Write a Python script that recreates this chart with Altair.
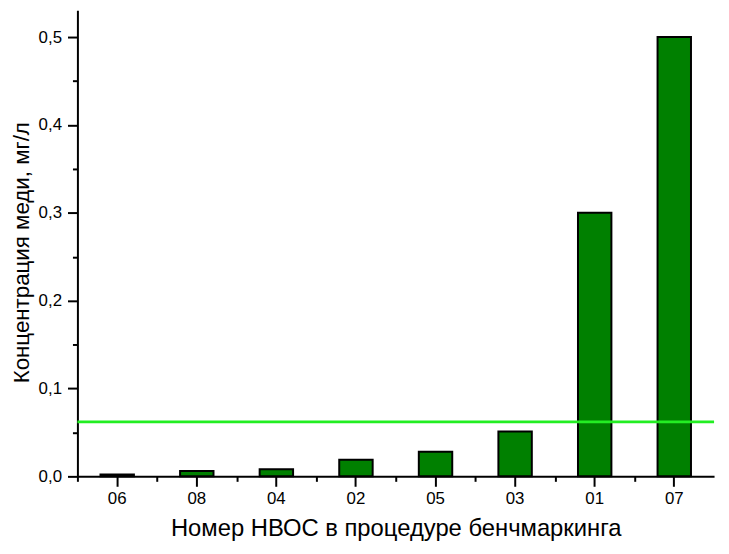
import altair as alt
import pandas as pd

cats = ["06", "08", "04", "02", "05", "03", "01", "07"]
vals = [0.002, 0.006, 0.008, 0.019, 0.028, 0.051, 0.300, 0.500]
threshold = 0.062
y_major = [0.0, 0.1, 0.2, 0.3, 0.4, 0.5]
y_minor = [0.05, 0.15, 0.25, 0.35, 0.45]
x_minor = [0, 1, 2, 3, 4, 5, 6, 7]

df = pd.DataFrame({"cat": cats, "val": vals})
FONT = "Liberation Sans"
YMAX = 0.5305

xscale = alt.Scale(domain=cats, paddingInner=0.58, paddingOuter=0.29)
yscale = alt.Scale(domain=[0, YMAX], nice=False, zero=True)
label_expr = "replace(format(datum.value, '.1f'), '.', ',')"

bars = alt.Chart(df).mark_bar(color="#008000", stroke="#000000", strokeWidth=2).encode(
    x=alt.X("cat:N", sort=cats, scale=xscale,
            axis=alt.Axis(title="Номер НВОС в процедуре бенчмаркинга", orient="bottom",
                          labelAngle=0, tickSize=10, tickWidth=2, domainWidth=2, grid=False,
                          domainColor="black", tickColor="black", labelColor="black",
                          labelFontSize=17, labelFont=FONT, labelPadding=4,
                          titleFont=FONT, titleFontSize=24, titleFontWeight="normal",
                          titleColor="black", titlePadding=11)),
    y=alt.Y("val:Q", scale=yscale,
            axis=alt.Axis(title="Концентрация меди, мг/л", orient="left", values=y_major,
                          labelExpr=label_expr, tickSize=10, tickWidth=2, domainWidth=2,
                          grid=False,
                          domainColor="black", tickColor="black", labelColor="black",
                          labelFontSize=17, labelFont=FONT, labelPadding=6,
                          titleFont=FONT, titleFontSize=22.5, titleFontWeight="normal",
                          titleColor="black", titleX=-67, titleY=244,
                          titleBaseline="top", titleAngle=270)),
)

rule = alt.Chart(pd.DataFrame({"t": [threshold]})).mark_rule(
    color="#22EE22", strokeWidth=3).encode(
    y=alt.Y("t:Q", scale=yscale, axis=None)
)

minor_df = pd.DataFrame({"xm": x_minor, "m": y_minor + [0.05, 0.05, 0.05]})
minor = alt.Chart(minor_df).mark_point(opacity=0).encode(
    x=alt.X("xm:Q", scale=alt.Scale(domain=[0, len(cats)], nice=False, zero=False),
            axis=alt.Axis(title=None, orient="bottom", labels=False, domain=False, grid=False,
                          values=x_minor, tickSize=5, tickWidth=2, tickColor="black")),
    y=alt.Y("m:Q", scale=yscale,
            axis=alt.Axis(title=None, orient="left", values=y_minor, labels=False, grid=False,
                          domain=False, tickSize=5, tickWidth=2, tickColor="black")),
)

chart = alt.layer(bars, rule, minor).resolve_scale(x="independent").resolve_axis(
    x="independent", y="independent"
).properties(
    width=642, height=470,
    background="white",
    autosize=alt.AutoSizeParams(type="none"),
    padding={"left": 70, "top": 0, "right": 7, "bottom": 76},
).configure_view(strokeWidth=1, stroke="white").configure_axis(grid=False)

chart.save("out.html", embed_options={"renderer": "svg", "actions": False})
